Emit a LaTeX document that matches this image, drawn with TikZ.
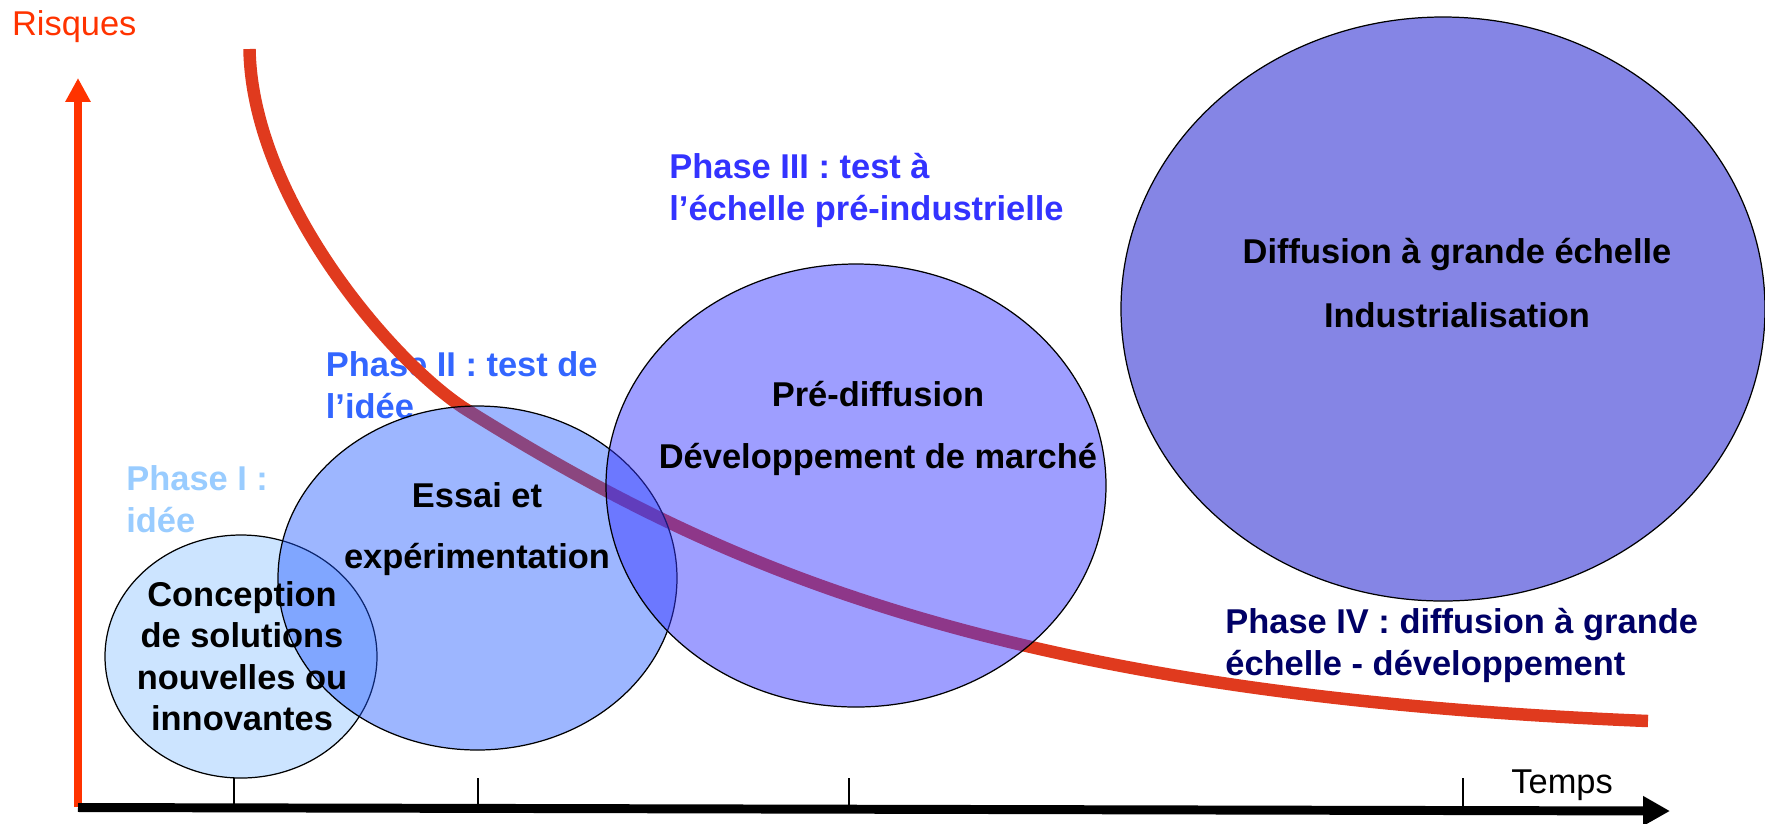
\documentclass[tikz,border=0pt]{standalone}
\usepackage{fontspec}
\setmainfont{Liberation Sans}
\usetikzlibrary{arrows.meta}
\definecolor{riskred}{HTML}{FF3300}
\definecolor{curvered}{HTML}{E03A1E}
\definecolor{phaseone}{HTML}{99CCFF}
\definecolor{phasetwo}{HTML}{3366FF}
\definecolor{phasethree}{HTML}{3333FF}
\definecolor{phasefour}{HTML}{000066}
\definecolor{bubbleone}{HTML}{CCE4FF}
\definecolor{bubbletwo}{RGB}{28,86,255}
\definecolor{bubblethree}{RGB}{53,53,255}
\definecolor{bubblefour}{HTML}{8585E5}
\def\slidefont{\fontsize{19.6}{23.5}\selectfont}
\tikzset{yaxis/.style={riskred,line width=4.8pt,-{Triangle[width=13.6pt,length=13.6pt]}}}
\tikzset{xaxis/.style={black,line width=5.1pt,-{Triangle[width=15.9pt,length=15.3pt]}}}
\tikzset{tick/.style={black,line width=0.6pt}}
\tikzset{risk/.style={curvered,line width=7.1pt}}
\tikzset{bubble/.style={draw=black,line width=0.7pt}}
\tikzset{phase/.style={font=\slidefont\bfseries,align=left,anchor=base west,inner sep=0pt}}
\tikzset{stage/.style={font=\slidefont\bfseries,align=center,anchor=base,inner sep=0pt}}

\begin{document}
\begin{tikzpicture}[x=0.02cm,y=-0.02cm,font=\slidefont]
  \useasboundingbox (0,0) rectangle (1765,823);
  % axes
  \coordinate(origin) at (78,807.5);
  \coordinate(ytip) at (78,78);
  \coordinate(xtip) at (1670,811);
  \draw[yaxis] (78,807) -- (ytip);
  \draw[xaxis] (origin) -- (xtip);
  \foreach \x in {234,478,849,1463}
    \draw[tick] (\x,778) -- (\x,808);
  \node(risques)[riskred,anchor=base west,inner sep=0pt] at (11.7,35) {Risques};
  \node(temps)[anchor=base west,inner sep=0pt] at (1511,793) {Temps};
  % phases (anchored on the last line)
  \node(ph1)[phase,phaseone] at (126,532) {Phase I :\\idée};
  \node(ph2)[phase,phasetwo] at (325.5,418) {Phase II : test de\\l’idée};
  \node(ph3)[phase,phasethree] at (669,220) {Phase III : test à\\l’échelle pré-industrielle};
  \node(ph4)[phase,phasefour] at (1225,675) {Phase IV : diffusion à grande\\échelle - développement};
  % risk curve
  \draw[risk] (249.5,49) .. controls (252,200) and (395,365) .. (467,410)
    .. controls (717,566) and (998,695) .. (1648,721);
  % bubbles
  \path[bubble,fill=bubbleone] (241,656.5) ellipse [x radius=136,y radius=121.5];
  \path[bubble,fill=bubbletwo,fill opacity=0.43] (477.5,578) ellipse [x radius=199.5,y radius=172];
  \path[bubble,fill=bubblethree,fill opacity=0.48] (856,485.5) ellipse [x radius=250,y radius=221.5];
  \path[bubble,fill=bubblefour] (1443,309) ellipse [x radius=322,y radius=292];
  \node(c1)[stage] at (242,730.5) {Conception\\de solutions\\nouvelles ou\\innovantes};
  \node(c2)[stage] at (477,568) {Essai et\\[11pt]expérimentation};
  \node(c3)[stage] at (878,468) {Pré-diffusion\\[11.3pt]Développement de marché};
  \node(c4)[stage] at (1457,327) {Diffusion à grande échelle\\[12.8pt]Industrialisation};
\end{tikzpicture}
\end{document}
